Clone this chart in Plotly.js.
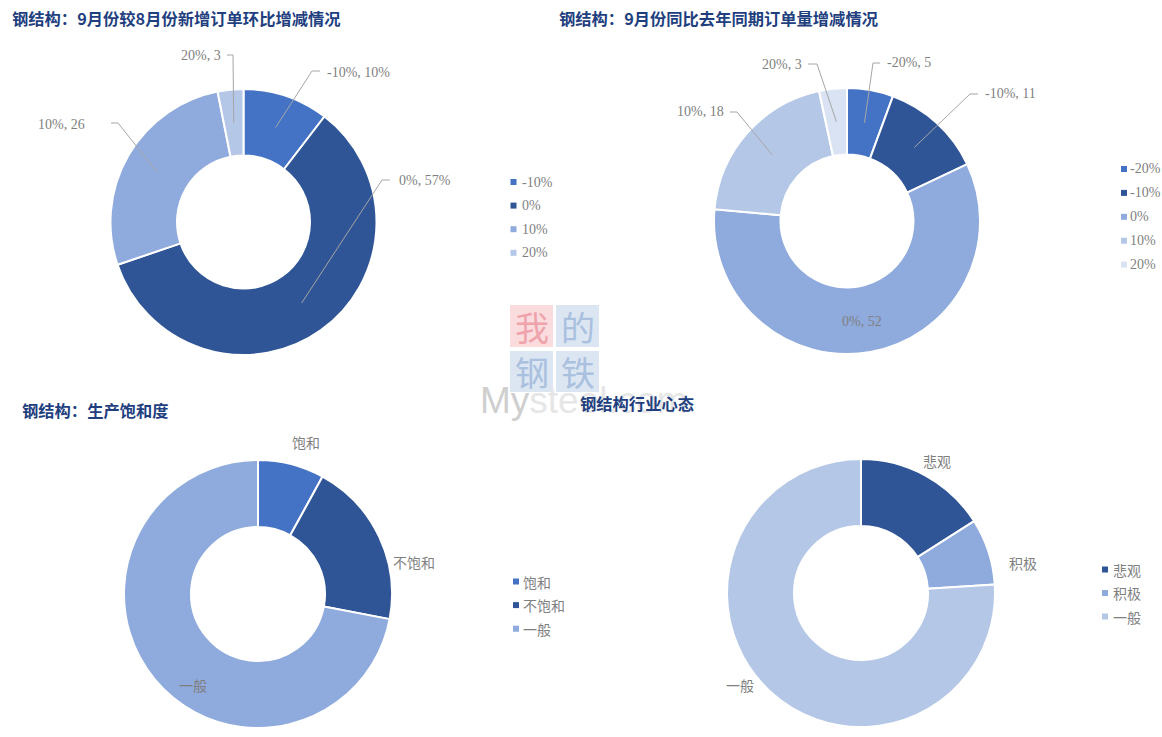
<!DOCTYPE html>
<html>
<head>
<meta charset="utf-8">
<script src="https://cdn.plot.ly/plotly-3.0.1.min.js"></script>
<style>
html,body{margin:0;padding:0;background:#fff;}
#chart{width:1162px;height:737px;}
</style>
</head>
<body>
<div id="chart"></div>
<script>
// ---------------- data ----------------
const tlTitle = '钢结构：9月份较8月份新增订单环比增减情况';
const tlCats = ['-10%', '0%', '10%', '20%'];
const tlValues = [10, 57, 26, 3];
const tlUnits = ['%', '%', '', ''];

const trTitle = '钢结构：9月份同比去年同期订单量增减情况';
const trCats = ['-20%', '-10%', '0%', '10%', '20%'];
const trValues = [5, 11, 52, 18, 3];
const trUnits = ['', '', '', '', ''];

const blTitle = '钢结构：生产饱和度';
const blCats = ['饱和', '不饱和', '一般'];
const blValues = [8, 20, 72];

const brTitle = '钢结构行业心态';
const brCats = ['悲观', '积极', '一般'];
const brValues = [16, 8, 76];

// ---------------- styles / layout ----------------
const W = 1162, H = 737;
const C1 = '#4472C4', C2 = '#2F5597', C3 = '#8FAADC', C4 = '#B4C7E7', C5 = '#DAE3F3';
const GREY = '#7F7F7F';
const LINE = '#A6A6A6';
const TITLE_COLOR = '#1F3F7F';
const SERIF = 'Liberation Serif, Noto Sans CJK SC, serif';
const CJK = 'Noto Sans CJK SC, sans-serif';

const px = x => x / W;
const py = y => 1 - y / H;

const charts = [
  {cats: tlCats, values: tlValues, units: tlUnits, colors: [C1, C2, C3, C4], cx: 243.5, cy: 222, r: 133,
   title: tlTitle, titlePos: [10, 18],
   legend: {sx: 513.5, tx: 519.5, y0: 182, step: 23.6},
   labels: [
     {e: [312, 71], h: [320, 71], t: [325, 72, 'left']},
     {e: [382, 180], h: [390, 180], t: [397, 180, 'left']},
     {e: [118, 123], h: [111, 123], t: [87, 124, 'right']},
     {e: [233, 55], h: [227, 55], t: [223, 56, 'right']}
   ]},
  {cats: trCats, values: trValues, units: trUnits, colors: [C1, C2, C3, C4, C5], cx: 847, cy: 221, r: 133,
   title: trTitle, titlePos: [557, 18],
   legend: {sx: 1124, tx: 1128, y0: 169, step: 23.9},
   labels: [
     {e: [873, 63], h: [880, 63], t: [885, 63, 'left']},
     {e: [970, 94], h: [978, 94], t: [983, 94, 'left']},
     {t: [862, 321, 'center']},
     {e: [737, 112], h: [730, 112], t: [726, 112, 'right']},
     {e: [817, 64], h: [808, 64], t: [804, 64, 'right']}
   ]},
  {cats: blCats, values: blValues, colors: [C1, C2, C3], cx: 258, cy: 594, r: 134,
   title: blTitle, titlePos: [20, 410], catLabels: true,
   legend: {sx: 516, tx: 521, y0: 581.5, step: 23.6},
   labels: [
     {t: [306, 442, 'center']},
     {t: [391, 562, 'left']},
     {t: [193, 685, 'center']}
   ]},
  {cats: brCats, values: brValues, colors: [C2, C3, C4], cx: 861, cy: 593, r: 134,
   title: brTitle, titlePos: [578, 403], catLabels: true,
   legend: {sx: 1105, tx: 1111, y0: 569.5, step: 23.5},
   labels: [
     {t: [937, 461, 'center']},
     {t: [1023, 563, 'center']},
     {t: [740, 685, 'center']}
   ]}
];

function midAngles(values) {
  const tot = values.reduce((a, b) => a + b, 0);
  let acc = 0;
  return values.map(v => { const m = (acc + v / 2) / tot * 360; acc += v; return m; });
}

const traces = [];
const shapes = [];
const annotations = [];
const layout = {
  width: W, height: H,
  margin: {l: 0, r: 0, t: 0, b: 0, pad: 0, autoexpand: false},
  paper_bgcolor: '#ffffff',
  plot_bgcolor: '#ffffff',
  showlegend: false,
  shapes: shapes,
  annotations: annotations
};

// watermark (behind)
const wm = [
  {x0: 510, y0: 305, x1: 553, y1: 347, fill: '#FADCDF', ch: '我', col: '#EFA3AB'},
  {x0: 556, y0: 305, x1: 599, y1: 347, fill: '#DCE6F2', ch: '的', col: '#A9C0DE'},
  {x0: 510, y0: 351, x1: 553, y1: 392, fill: '#DCE6F2', ch: '钢', col: '#A9C0DE'},
  {x0: 556, y0: 351, x1: 599, y1: 392, fill: '#DCE6F2', ch: '铁', col: '#A9C0DE'}
];
wm.forEach(b => {
  shapes.push({type: 'rect', xref: 'paper', yref: 'paper', x0: px(b.x0), x1: px(b.x1), y0: py(b.y1), y1: py(b.y0),
    fillcolor: b.fill, line: {width: 0}, layer: 'below'});
  annotations.push({xref: 'paper', yref: 'paper', x: px((b.x0 + b.x1) / 2), y: py((b.y0 + b.y1) / 2),
    text: b.ch, showarrow: false, xanchor: 'center', yanchor: 'middle',
    font: {family: CJK, size: 34, color: b.col}});
});
annotations.push({xref: 'paper', yref: 'paper', x: px(478), y: py(400), xanchor: 'left', yanchor: 'middle',
  text: '<span style="color:#CFCFCF">My</span>steel.com', showarrow: false,
  font: {family: 'Liberation Sans, sans-serif', size: 37, color: '#E6E6E6'}});

charts.forEach((c, idx) => {
  traces.push({
    type: 'pie',
    name: c.title,
    labels: c.cats,
    values: c.values,
    sort: false,
    direction: 'clockwise',
    rotation: 0,
    hole: 0.5,
    textinfo: 'none',
    hoverinfo: 'label+value',
    marker: {colors: c.colors, line: {color: '#ffffff', width: 2}},
    domain: {x: [px(c.cx - c.r), px(c.cx + c.r)], y: [py(c.cy + c.r), py(c.cy - c.r)]},
    showlegend: false
  });
  // title
  annotations.push({xref: 'paper', yref: 'paper', x: px(c.titlePos[0]), y: py(c.titlePos[1]),
    xanchor: 'left', yanchor: 'middle', text: '<b>' + c.title + '</b>', showarrow: false,
    font: {family: CJK, size: 16.3, color: TITLE_COLOR}});
  // legend (small squares + text)
  const lg = c.legend, s = 3;
  c.cats.forEach((cat, i) => {
    const yy = lg.y0 + i * lg.step;
    shapes.push({type: 'rect', xref: 'paper', yref: 'paper',
      x0: px(lg.sx - s), x1: px(lg.sx + s), y0: py(yy + s), y1: py(yy - s),
      fillcolor: c.colors[i], line: {width: 0}});
    annotations.push({xref: 'paper', yref: 'paper', x: px(lg.tx), y: py(yy), xanchor: 'left', yanchor: 'middle',
      text: cat, showarrow: false, font: {family: c.catLabels ? CJK : SERIF, size: 14, color: GREY}});
  });
  // data labels with leader lines
  const mids = midAngles(c.values);
  const rr = 0.75 * c.r;
  c.labels.forEach((lb, i) => {
    const a = mids[i] * Math.PI / 180;
    const sx = c.cx + rr * Math.sin(a), sy = c.cy - rr * Math.cos(a);
    if (lb.e) {
      shapes.push({type: 'path', xref: 'paper', yref: 'paper',
        path: `M ${px(sx)},${py(sy)} L ${px(lb.e[0])},${py(lb.e[1])} L ${px(lb.h[0])},${py(lb.h[1])}`,
        line: {color: LINE, width: 1}});
    }
    const txt = c.catLabels ? c.cats[i] : `${c.cats[i]}, ${c.values[i]}${c.units[i]}`;
    annotations.push({xref: 'paper', yref: 'paper', x: px(lb.t[0]), y: py(lb.t[1]),
      xanchor: lb.t[2], yanchor: 'middle', text: txt, showarrow: false,
      font: {family: c.catLabels ? CJK : SERIF, size: 14, color: GREY}});
  });
});

Plotly.newPlot('chart', traces, layout, {displayModeBar: false, responsive: false});
</script>
</body>
</html>
